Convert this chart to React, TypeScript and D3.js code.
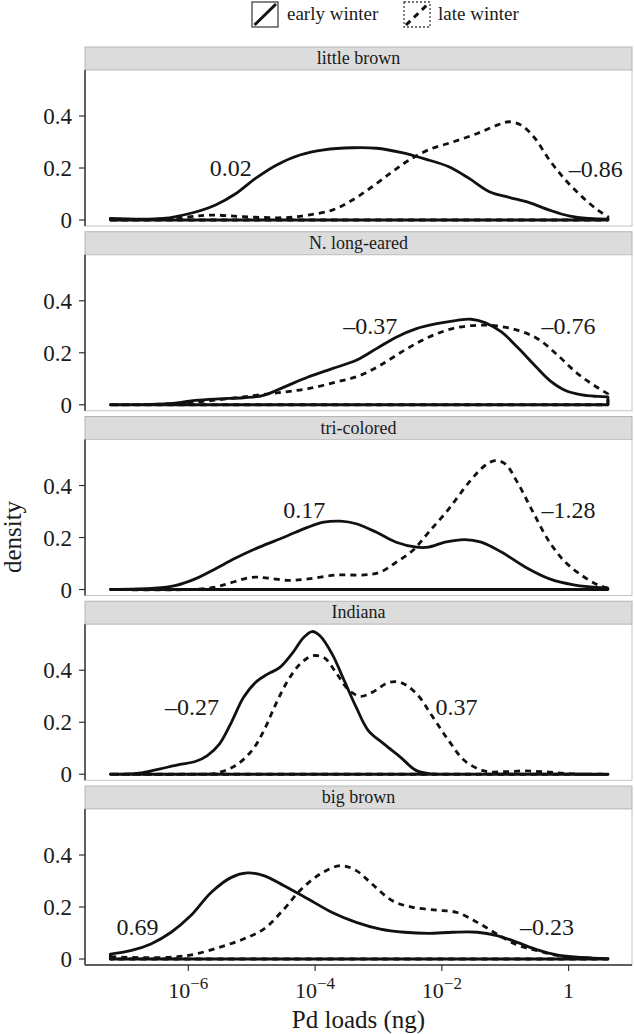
import React from "react";
import * as d3 from "d3";

// ---------- data (x = log10 Pd load in ng, y = density) ----------
const species = ["little brown", "N. long-eared", "tri-colored", "Indiana", "big brown"];
const seriesNames = ["early winter", "late winter"];

const littleBrownEarlyX = [-7.23, -6.4, -5.96, -5.57, -5.26, -4.94, -4.62, -4.24, -3.86, -3.41, -3.03, -2.65, -2.27, -1.89, -1.57, -1.25, -0.94, -0.62, -0.3, 0.02, 0.33, 0.62];
const littleBrownEarlyY = [0.006, 0.006, 0.026, 0.058, 0.1, 0.16, 0.21, 0.25, 0.27, 0.278, 0.276, 0.26, 0.235, 0.205, 0.16, 0.109, 0.087, 0.067, 0.038, 0.015, 0.006, 0.003];
const littleBrownLateX = [-7.23, -6.6, -6.0, -5.64, -5.13, -4.49, -4.11, -3.73, -3.41, -3.1, -2.78, -2.52, -2.21, -1.83, -1.44, -1.13, -0.94, -0.75, -0.55, -0.3, -0.05, 0.21, 0.46, 0.62];
const littleBrownLateY = [0.0, 0.001, 0.012, 0.019, 0.013, 0.009, 0.019, 0.038, 0.077, 0.128, 0.186, 0.23, 0.27, 0.3, 0.333, 0.365, 0.378, 0.365, 0.32, 0.23, 0.154, 0.09, 0.038, 0.013];

const longEaredEarlyX = [-7.23, -6.6, -6.21, -5.89, -5.51, -5.13, -4.81, -4.49, -4.11, -3.73, -3.35, -3.03, -2.72, -2.4, -2.08, -1.76, -1.54, -1.32, -1.06, -0.81, -0.56, -0.3, -0.05, 0.21, 0.46, 0.62];
const longEaredEarlyY = [0, 0.001, 0.006, 0.017, 0.023, 0.027, 0.036, 0.068, 0.107, 0.139, 0.171, 0.216, 0.26, 0.293, 0.312, 0.325, 0.329, 0.316, 0.28, 0.222, 0.158, 0.094, 0.055, 0.038, 0.032, 0.03];
const longEaredLateX = [-7.23, -6.6, -6.2, -5.76, -5.38, -4.94, -4.49, -4.11, -3.67, -3.29, -2.97, -2.59, -2.21, -1.83, -1.44, -1.13, -0.81, -0.49, -0.17, 0.14, 0.4, 0.62];
const longEaredLateY = [0, 0.001, 0.005, 0.013, 0.023, 0.036, 0.049, 0.062, 0.087, 0.113, 0.152, 0.21, 0.26, 0.293, 0.306, 0.303, 0.287, 0.254, 0.19, 0.12, 0.075, 0.042];

const triColoredEarlyX = [-7.23, -6.53, -6.21, -5.89, -5.57, -5.26, -4.88, -4.49, -4.11, -3.86, -3.6, -3.35, -3.03, -2.72, -2.4, -2.21, -1.95, -1.64, -1.38, -1.06, -0.68, -0.3, 0.08, 0.62];
const triColoredEarlyY = [0, 0.005, 0.015, 0.041, 0.08, 0.12, 0.163, 0.201, 0.24, 0.259, 0.263, 0.253, 0.22, 0.182, 0.163, 0.163, 0.182, 0.192, 0.182, 0.144, 0.086, 0.041, 0.018, 0.005];
const triColoredLateX = [-7.23, -6.0, -5.6, -5.38, -5.0, -4.75, -4.43, -4.11, -3.67, -3.22, -2.97, -2.72, -2.46, -2.21, -1.89, -1.57, -1.32, -1.16, -1.0, -0.81, -0.56, -0.3, -0.05, 0.21, 0.46, 0.62];
const triColoredLateY = [0, 0, 0.008, 0.022, 0.047, 0.044, 0.035, 0.041, 0.056, 0.056, 0.067, 0.105, 0.15, 0.22, 0.31, 0.413, 0.477, 0.496, 0.483, 0.413, 0.297, 0.182, 0.105, 0.054, 0.018, 0.005];

const indianaEarlyX = [-7.23, -6.78, -6.46, -6.15, -5.89, -5.7, -5.51, -5.32, -5.13, -4.94, -4.75, -4.56, -4.37, -4.18, -4.05, -3.92, -3.73, -3.54, -3.35, -3.16, -2.91, -2.65, -2.4, -2.14, -1.8, 0.62];
const indianaEarlyY = [0, 0.004, 0.02, 0.037, 0.049, 0.072, 0.116, 0.2, 0.295, 0.353, 0.385, 0.41, 0.462, 0.526, 0.549, 0.532, 0.462, 0.36, 0.257, 0.168, 0.116, 0.065, 0.014, 0.001, 0, 0];
const indianaLateX = [-7.23, -5.89, -5.57, -5.26, -5.0, -4.81, -4.62, -4.43, -4.24, -4.05, -3.86, -3.67, -3.48, -3.29, -3.1, -2.84, -2.65, -2.4, -2.14, -1.89, -1.64, -1.32, -1.0, -0.68, -0.36, -0.05, 0.3, 0.62];
const indianaLateY = [0, 0, 0.004, 0.033, 0.09, 0.167, 0.27, 0.36, 0.423, 0.455, 0.449, 0.391, 0.327, 0.3, 0.315, 0.353, 0.353, 0.31, 0.219, 0.129, 0.052, 0.012, 0.01, 0.013, 0.009, 0.003, 0, 0];

const bigBrownEarlyX = [-7.23, -6.91, -6.59, -6.27, -5.96, -5.64, -5.32, -5.07, -4.81, -4.49, -4.11, -3.73, -3.35, -2.97, -2.59, -2.21, -1.83, -1.44, -1.13, -0.81, -0.49, -0.17, 0.21, 0.62];
const bigBrownEarlyY = [0.019, 0.032, 0.058, 0.103, 0.167, 0.256, 0.314, 0.331, 0.321, 0.282, 0.231, 0.179, 0.141, 0.115, 0.103, 0.099, 0.103, 0.103, 0.09, 0.064, 0.035, 0.015, 0.006, 0.001];
const bigBrownLateX = [-7.23, -6.72, -6.21, -5.89, -5.51, -5.13, -4.81, -4.49, -4.24, -3.92, -3.6, -3.35, -3.1, -2.78, -2.46, -2.08, -1.76, -1.44, -1.13, -0.81, -0.49, -0.17, 0.21, 0.62];
const bigBrownLateY = [0.009, 0.005, 0.008, 0.019, 0.045, 0.077, 0.115, 0.192, 0.263, 0.327, 0.359, 0.34, 0.288, 0.224, 0.199, 0.188, 0.179, 0.141, 0.096, 0.054, 0.032, 0.013, 0.005, 0.001];

// annotation labels: [left label, right label], with positions (log10 load, density)
const labelText = [["0.02", "–0.86"], ["–0.37", "–0.76"], ["0.17", "–1.28"], ["–0.27", "0.37"], ["0.69", "–0.23"]];
const labelX = [[-5.33, 0.43], [-3.13, 0.0], [-4.17, 0.0], [-5.94, -1.77], [-6.8, -0.34]];
const labelY = [[0.169, 0.165], [0.273, 0.273], [0.277, 0.277], [0.227, 0.227], [0.092, 0.092]];

const yTicks = [0, 0.2, 0.4];
const yTickLabels = ["0", "0.2", "0.4"];
const xTickExp = [-6, -4, -2, 0];

const earlyX = [littleBrownEarlyX, longEaredEarlyX, triColoredEarlyX, indianaEarlyX, bigBrownEarlyX];
const earlyY = [littleBrownEarlyY, longEaredEarlyY, triColoredEarlyY, indianaEarlyY, bigBrownEarlyY];
const lateX = [littleBrownLateX, longEaredLateX, triColoredLateX, indianaLateX, bigBrownLateX];
const lateY = [littleBrownLateY, longEaredLateY, triColoredLateY, indianaLateY, bigBrownLateY];

// ---------- layout ----------
const W = 634;
const H = 1034;
const left = 85;
const right = 632;
const firstStripTop = 47;
const period = 184.75;
const stripH = 23;
const bodyH = 156;
const FONT = '"Liberation Serif", "Times New Roman", Times, "DejaVu Serif", serif';
const INK = "#1a1a1a";
const DASH = "6,5";

const x = d3.scaleLog().domain([Math.pow(10, -7.63), Math.pow(10, 1.0)]).range([left, right]);

function densityPath(xs: number[], ys: number[], y: d3.ScaleLinear<number, number>) {
  const pts: [number, number][] = xs.map((e, i) => [x(Math.pow(10, e)), y(ys[i])]);
  const line = d3.line().curve(d3.curveCatmullRom.alpha(0.5))(pts) || "";
  const x0 = pts[0][0];
  const x1 = pts[pts.length - 1][0];
  return `${line}L${x1},${y(0)}L${x0},${y(0)}Z`;
}

export default function App() {
  const cx = (left + right) / 2;
  return (
    <svg width={W} height={H} style={{ display: "block", position: "absolute", left: 0, top: 0, background: "#fff" }}>
      <rect x={0} y={0} width={W} height={H} fill="#fff" />
      {/* legend */}
      <g fontFamily={FONT} fontSize={19} fill={INK}>
        <rect x={252} y={2} width={26} height={25} fill="#fff" stroke="#444" strokeWidth={1.3} />
        <line x1={254.5} y1={25} x2={276} y2={4} stroke="#111" strokeWidth={3} />
        <text x={287} y={20}>{seriesNames[0]}</text>
        <rect x={404} y={2} width={26} height={25} fill="#fff" stroke="#444" strokeWidth={1.3} strokeDasharray="2,2" />
        <line x1={406} y1={25} x2={428} y2={4} stroke="#111" strokeWidth={3} strokeDasharray={DASH} />
        <text x={438} y={20}>{seriesNames[1]}</text>
      </g>

      {species.map((sp, i) => {
        const stripTop = firstStripTop + i * period;
        const bodyTop = stripTop + stripH;
        const bodyBottom = bodyTop + bodyH;
        const y = d3.scaleLinear().domain([-0.023, 0.577]).range([bodyBottom, bodyTop]);
        const isLast = i === species.length - 1;
        return (
          <g key={sp}>
            <rect x={left} y={stripTop} width={right - left} height={stripH} fill="#dcdcdc" stroke="#b5b5b5" strokeWidth={1} />
            <text x={cx} y={stripTop + 17} textAnchor="middle" fontFamily={FONT} fontSize={18} fill={INK}>{sp}</text>
            <rect x={left} y={bodyTop} width={right - left} height={bodyH} fill="#fff" stroke="#c4c4c4" strokeWidth={1} />
            <line x1={left} y1={bodyTop} x2={left} y2={bodyBottom} stroke="#333" strokeWidth={1.5} />
            {isLast && <line x1={left} y1={bodyBottom} x2={right} y2={bodyBottom} stroke="#333" strokeWidth={1.5} />}
            {yTicks.map((t, k) => (
              <g key={k}>
                <line x1={left - 6} x2={left} y1={y(t)} y2={y(t)} stroke="#333" strokeWidth={1.2} />
                <text x={left - 13} y={y(t)} dy="0.35em" textAnchor="end" fontFamily={FONT} fontSize={23} fill={INK}>{yTickLabels[k]}</text>
              </g>
            ))}
            <path d={densityPath(earlyX[i], earlyY[i], y)} fill="none" stroke="#111" strokeWidth={2.8} strokeLinejoin="round" />
            <path d={densityPath(lateX[i], lateY[i], y)} fill="none" stroke="#111" strokeWidth={2.8} strokeDasharray={DASH} strokeLinejoin="round" />
            {labelText[i].map((lt, k) => (
              <text key={k} x={x(Math.pow(10, labelX[i][k]))} y={y(labelY[i][k])} textAnchor="middle" fontFamily={FONT} fontSize={24} fill={INK}>{lt}</text>
            ))}
            {isLast && xTickExp.map((e) => (
              <g key={e}>
                <line x1={x(Math.pow(10, e))} x2={x(Math.pow(10, e))} y1={bodyBottom} y2={bodyBottom + 6} stroke="#333" strokeWidth={1.2} />
                <text x={x(Math.pow(10, e))} y={bodyBottom + 33} textAnchor="middle" fontFamily={FONT} fontSize={22} fill={INK}>
                  {e === 0 ? "1" : (
                    <>
                      <tspan>10</tspan>
                      <tspan fontSize={17} dy={-9}>{`−${-e}`}</tspan>
                    </>
                  )}
                </text>
              </g>
            ))}
          </g>
        );
      })}
      <text x={cx} y={1028} textAnchor="middle" fontFamily={FONT} fontSize={25} fill={INK}>Pd loads (ng)</text>
      <text transform={`translate(21,537) rotate(-90)`} textAnchor="middle" fontFamily={FONT} fontSize={25} fill={INK}>density</text>
    </svg>
  );
}
